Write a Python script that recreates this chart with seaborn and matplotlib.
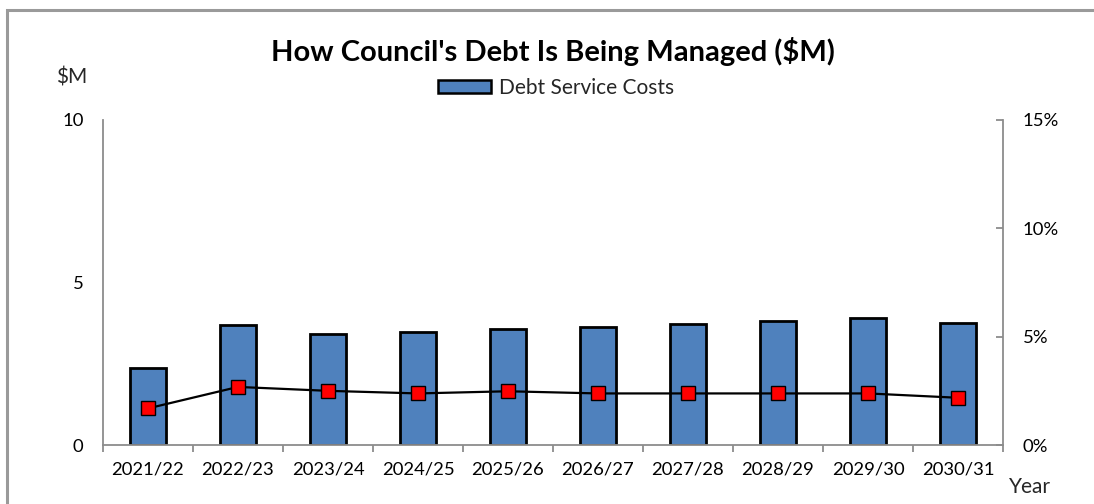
import numpy as np
import matplotlib
matplotlib.use("Agg")
import matplotlib.pyplot as plt
from matplotlib.patches import Rectangle, Patch
import seaborn as sns

# Financial years and series
years = ["2021/22", "2022/23", "2023/24", "2024/25", "2025/26",
         "2026/27", "2027/28", "2028/29", "2029/30", "2030/31"]
debt_service_costs = [2.36, 3.69, 3.41, 3.49, 3.56, 3.64, 3.72, 3.82, 3.91, 3.76]  # $M
debt_ratio_pct = [1.69, 2.68, 2.50, 2.38, 2.48, 2.38, 2.38, 2.38, 2.38, 2.18]      # %

left_ticks = [0, 5, 10]
right_ticks = [0, 5, 10, 15]

sns.set_theme(style="white")
plt.rcParams["font.family"] = ["Lato", "DejaVu Sans"]

BAR_BLUE = "#4F81BD"
SPINE_GREY = "#8C8C8C"
FS = 13.3
FS_TEXT = 15

fig = plt.figure(figsize=(10.94, 5.04), dpi=100)
ax = fig.add_axes([103 / 1094, 1 - 445 / 504, 900 / 1094, 325 / 504])

sns.barplot(x=years, y=debt_service_costs, color=BAR_BLUE, edgecolor="black",
            linewidth=2, width=0.41, saturation=1, ax=ax)
ax.set_ylim(0, 10)
ax.set_xlim(-0.5, len(years) - 0.5)
ax.set_yticks(left_ticks)
ax.set_xlabel("")
ax.set_ylabel("")

ax2 = ax.twinx()
sns.pointplot(x=years, y=debt_ratio_pct, color="black", markers="s",
              linewidth=1.6, ax=ax2)
for ln in ax2.lines:
    ln.set_markerfacecolor("#FF0000")
    ln.set_markeredgecolor("black")
    ln.set_markeredgewidth(1.0)
    ln.set_markersize(10)
ax2.set_ylim(0, 15)
ax2.set_yticks(right_ticks)
ax2.set_yticklabels([f"{t}%" for t in right_ticks])
ax2.set_xlim(-0.5, len(years) - 0.5)
ax2.set_ylabel("")

# Spines
for a in (ax, ax2):
    a.spines["top"].set_visible(False)
    for s in ("left", "right", "bottom"):
        a.spines[s].set_color(SPINE_GREY)
        a.spines[s].set_linewidth(1.3)
ax.spines["right"].set_visible(False)
ax2.spines["left"].set_visible(False)
ax2.spines["bottom"].set_visible(False)

# Category ticks sit between the bars
ax.set_xticks(np.arange(len(years)))
ax.set_xticklabels(years)
ax.set_xticks(np.arange(-0.5, len(years)), minor=True)
ax.tick_params(axis="x", which="major", length=0, pad=12, labelsize=FS, colors="black")
ax.tick_params(axis="x", which="minor", length=5, width=1.3, color=SPINE_GREY,
               direction="out", bottom=True)
ax.tick_params(axis="y", length=0, pad=14, labelsize=FS, colors="black")
ax2.tick_params(axis="y", length=5, width=1.3, color=SPINE_GREY, direction="in",
                pad=14, labelsize=FS, labelcolor="black")
ax2.tick_params(axis="x", length=0, labelbottom=False)

fig.text(553 / 1094, 1 - 52 / 504, "How Council's Debt Is Being Managed ($M)",
         ha="center", va="center", fontsize=21, fontweight="bold", color="black")
fig.text(72 / 1094, 1 - 77 / 504, "$M", ha="center", va="center", fontsize=FS_TEXT)
fig.text(1030 / 1094, 1 - 487 / 504, "Year", ha="center", va="center", fontsize=FS_TEXT)

leg = fig.legend(handles=[Patch(facecolor=BAR_BLUE, edgecolor="black", linewidth=1.8,
                                label="Debt Service Costs")],
                 loc="center", bbox_to_anchor=(556 / 1094, 1 - 88 / 504),
                 frameon=False, fontsize=FS_TEXT, handlelength=2.55, handleheight=0.6,
                 handletextpad=0.35)

# Outer chart frame
fig.patches.append(Rectangle((7 / 1094, -0.1), 1.2, (504 - 10) / 504 + 0.1,
                             transform=fig.transFigure, fill=False,
                             edgecolor="#9A9A9A", linewidth=2.2, zorder=0))

fig.savefig("out.png", dpi=100)
